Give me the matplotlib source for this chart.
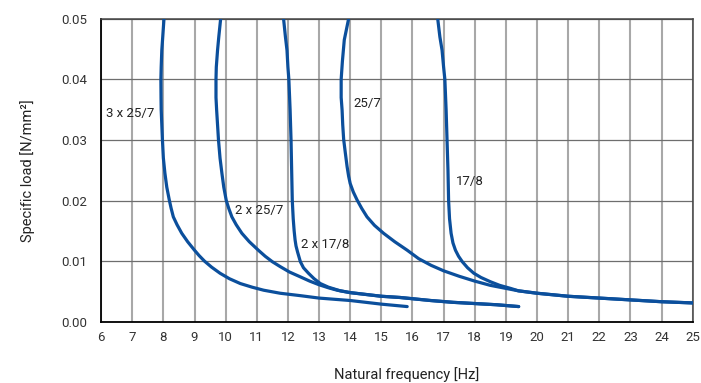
import matplotlib
matplotlib.use('Agg')
import matplotlib.pyplot as plt
import numpy as np

plt.rcParams['font.family'] = ['Roboto', 'DejaVu Sans']

## Curve data: natural frequency [Hz] vs specific load [N/mm²]
freq_3x25_7 = [8.02, 7.98, 7.95, 7.93, 7.92, 7.925, 7.93, 7.95, 7.97, 8.0, 8.05, 8.11,
               8.19, 8.25, 8.32, 8.44, 8.59, 8.78, 9.0, 9.15, 9.32, 9.55, 9.82, 10.12,
               10.47, 10.85, 11.22, 11.75, 12.4, 13.0, 14.0, 15.0, 15.83]
load_3x25_7 = [0.050, 0.047, 0.0448, 0.042, 0.040, 0.037, 0.035, 0.0325, 0.030, 0.027,
               0.0245, 0.0222, 0.0201, 0.0187, 0.0173, 0.0160, 0.0146, 0.0132, 0.0118,
               0.0109, 0.0100, 0.0090, 0.0080, 0.0071, 0.0063, 0.0057, 0.0052, 0.0047,
               0.0043, 0.0039, 0.0035, 0.0029, 0.0025]

freq_2x25_7 = [9.84, 9.78, 9.74, 9.70, 9.69, 9.69, 9.71, 9.74, 9.77, 9.82, 9.88, 9.94,
               10.02, 10.1, 10.2, 10.34, 10.52, 10.76, 11.05, 11.27, 11.5, 11.75, 12.05,
               12.4, 12.7, 13.0, 13.3, 13.58, 14.0, 14.5, 15.0, 15.6, 16.58, 17.3, 18.0,
               18.7, 19.41]
load_2x25_7 = [0.050, 0.047, 0.0448, 0.042, 0.040, 0.037, 0.035, 0.0325, 0.030, 0.027,
               0.0245, 0.0222, 0.020, 0.0187, 0.0173, 0.0160, 0.0146, 0.0132, 0.0118,
               0.0108, 0.0099, 0.0091, 0.0082, 0.0074, 0.0067, 0.0061, 0.0056, 0.0052,
               0.0048, 0.0045, 0.0042, 0.0040, 0.0035, 0.0032, 0.0030, 0.0028, 0.0025]

freq_2x17_8 = [11.86, 11.92, 11.97, 12.0, 12.03, 12.07, 12.10, 12.12, 12.14, 12.17, 12.2,
               12.23, 12.26, 12.31, 12.40, 12.5, 12.66, 12.84, 13.04, 13.3, 13.68, 14.0,
               14.5, 15.0, 15.6, 16.58, 17.3, 18.0, 18.7, 19.41]
load_2x17_8 = [0.050, 0.047, 0.0448, 0.042, 0.040, 0.035, 0.030, 0.025, 0.020, 0.017,
               0.0150, 0.0135, 0.0125, 0.0115, 0.0099, 0.0089, 0.0080, 0.0071, 0.0063,
               0.0057, 0.0051, 0.0048, 0.0045, 0.0042, 0.0040, 0.0035, 0.0032, 0.0030,
               0.0028, 0.0025]

freq_25_7 = [13.95, 13.87, 13.81, 13.75, 13.71, 13.71, 13.74, 13.76, 13.79, 13.84, 13.90,
             13.95, 14.0, 14.1, 14.22, 14.37, 14.54, 14.78, 15.07, 15.43, 15.83, 16.2,
             16.6, 17.0, 17.5, 18.0, 18.5, 19.0, 19.4, 20.0, 20.5, 21.0, 22.0, 23.0,
             24.0, 25.0]
load_25_7 = [0.050, 0.048, 0.0465, 0.043, 0.040, 0.037, 0.0349, 0.0325, 0.0301, 0.028,
             0.0256, 0.024, 0.0228, 0.0214, 0.0201, 0.0187, 0.0173, 0.0159, 0.0146,
             0.0132, 0.0118, 0.0104, 0.0093, 0.0084, 0.0075, 0.0067, 0.0060, 0.0055,
             0.0051, 0.0047, 0.00445, 0.0042, 0.0039, 0.0036, 0.0033, 0.0031]

freq_17_8 = [16.81, 16.88, 16.95, 17.0, 17.04, 17.08, 17.11, 17.14, 17.16, 17.19, 17.24,
             17.3, 17.38, 17.48, 17.6, 17.77, 17.97, 18.2, 18.5, 18.8, 19.15, 19.4, 20.0,
             20.5, 21.0, 22.0, 23.0, 24.0, 25.0]
load_17_8 = [0.050, 0.047, 0.0448, 0.042, 0.040, 0.035, 0.030, 0.025, 0.020, 0.017,
             0.0146, 0.0130, 0.0118, 0.0108, 0.0099, 0.0089, 0.0080, 0.0073, 0.0066,
             0.0060, 0.0055, 0.0051, 0.0047, 0.00445, 0.0042, 0.0039, 0.0036, 0.0033,
             0.0031]

curves = [
    ('3 x 25/7', freq_3x25_7, load_3x25_7, (6.15, 0.0344)),
    ('2 x 25/7', freq_2x25_7, load_2x25_7, (10.31, 0.0183)),
    ('2 x 17/8', freq_2x17_8, load_2x17_8, (12.42, 0.0127)),
    ('25/7', freq_25_7, load_25_7, (14.11, 0.0360)),
    ('17/8', freq_17_8, load_17_8, (17.38, 0.0231)),
]

x_ticks = np.arange(6, 26, 1)
y_ticks = [0.00, 0.01, 0.02, 0.03, 0.04, 0.05]

line_color = '#0b4f9c'

## Figure
fig = plt.figure(figsize=(7.01, 3.83), dpi=100)
ax = fig.add_axes([0.1442, 0.160, 0.8440, 0.7912])

for name, f, load, (tx, ty) in curves:
    ax.plot(f, load, color=line_color, lw=2.3, solid_capstyle='round',
            solid_joinstyle='round', zorder=3)
    ax.text(tx, ty, name, fontsize=9.5, color='#222222', ha='left', va='center', zorder=4)

## grid
for x in x_ticks:
    ax.axvline(x, color='#a8a8a8', lw=1.5, zorder=1)
for y in y_ticks:
    ax.axhline(y, color='#6e6e6e', lw=0.9, zorder=1)

## x axis
ax.set_xlim(6, 25)
ax.set_xticks(x_ticks)
ax.set_xlabel('Natural frequency [Hz]', fontsize=10.5, color='#222222')
ax.xaxis.set_label_coords(0.517, -0.15)

## y axis
ax.set_ylim(0, 0.05)
ax.set_yticks(y_ticks)
ax.set_yticklabels(['%.2f' % v for v in y_ticks])
ax.set_ylabel('Specific load [N/mm²]', fontsize=10.5, color='#222222')
ax.yaxis.set_label_coords(-0.112, 0.5)

ax.tick_params(axis='both', length=0, labelsize=9.5, labelcolor='#333333')
ax.tick_params(axis='x', pad=7)
ax.tick_params(axis='y', pad=10)

for side in ['left', 'bottom']:
    ax.spines[side].set_color('black')
    ax.spines[side].set_linewidth(1.3)
for side in ['top', 'right']:
    ax.spines[side].set_color('#444444')
    ax.spines[side].set_linewidth(1.1)

fig.savefig('out.png', dpi=100)
